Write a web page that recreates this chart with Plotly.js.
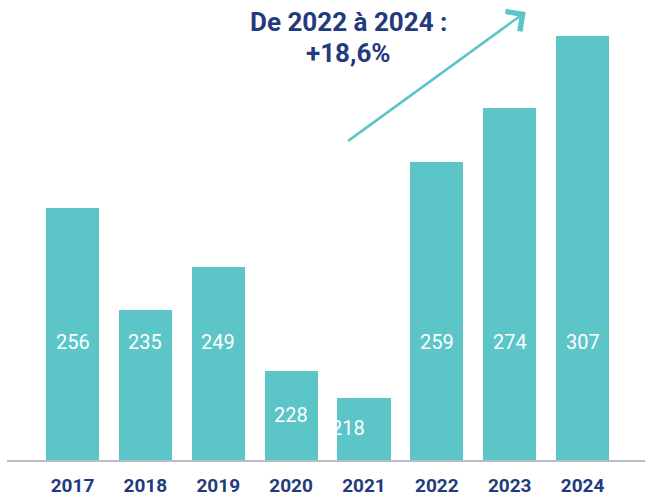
<!DOCTYPE html>
<html>
<head>
<meta charset="utf-8">
<script src="https://cdn.plot.ly/plotly-3.0.1.min.js"></script>
<style>html,body{margin:0;padding:0;background:#fff;}#chart{width:645px;height:497px;}</style>
</head>
<body>
<div id="chart"></div>
<script>
// Data
const years = ['2017', '2018', '2019', '2020', '2021', '2022', '2023', '2024'];
const valueLabels = ['256', '235', '249', '228', '218', '259', '274', '307'];
// bar heights as drawn in the picture (arbitrary scale)
const barHeights = [252, 150, 193, 89, 62, 298, 352, 424];
const titleLines = ['De 2022 à 2024 :', '+18,6%'];

const teal = '#5bc5c8';
const navy = '#233a7c';

const idx = years.map((_, i) => i);

const trace = {
  type: 'bar',
  x: idx,
  y: barHeights,
  width: 0.73,
  marker: {color: teal, line: {width: 0}},
  hoverinfo: 'skip'
};

const labelLevel = 118;
const annotations = valueLabels.map((t, i) => ({
  x: i, y: barHeights[i] > labelLevel + 15 ? labelLevel : barHeights[i] / 2 + 1,
  xref: 'x', yref: 'y', text: t, showarrow: false,
  xanchor: 'center', yanchor: 'middle',
  xshift: barHeights[i] < 70 ? -16 : 0,
  font: {family: 'Roboto, sans-serif', size: 20, color: '#ffffff', weight: 400}
}));

annotations.push({
  xref: 'paper', yref: 'paper', x: 0.536, y: 0.952, text: titleLines[0],
  xanchor: 'center', yanchor: 'middle',
  showarrow: false, font: {family: 'Roboto, sans-serif', size: 26, color: navy, weight: 'bold'}
});
annotations.push({
  xref: 'paper', yref: 'paper', x: 0.536, y: 0.885, text: titleLines[1],
  xanchor: 'center', yanchor: 'middle',
  showarrow: false, font: {family: 'Roboto, sans-serif', size: 26, color: navy, weight: 'bold'}
});
// decorative growth arrow
annotations.push({
  xref: 'paper', yref: 'paper', x: 0.813, y: 0.974, text: '',
  showarrow: true, ax: -179, ay: 130, arrowhead: 4, arrowsize: 1.9,
  arrowwidth: 2.5, arrowcolor: teal, standoff: 0
});

const layout = {
  width: 645, height: 497,
  margin: {l: 7, r: 0, t: 0, b: 37, pad: 0},
  paper_bgcolor: '#ffffff', plot_bgcolor: '#ffffff',
  showlegend: false,
  bargap: 0,
  xaxis: {
    range: [-0.899, 7.857],
    tickmode: 'array', tickvals: idx, ticktext: years,
    showgrid: false, zeroline: false,
    showline: true, linecolor: '#b9bccb', linewidth: 2,
    ticks: '', ticklabelstandoff: 7,
    tickfont: {family: 'Roboto, sans-serif', size: 19, color: navy, weight: 'bold'},
    fixedrange: true
  },
  yaxis: {
    range: [0, 460], visible: false, showgrid: false, zeroline: false, fixedrange: true
  },
  annotations: annotations
};

Plotly.newPlot('chart', [trace], layout, {displayModeBar: false, staticPlot: true});
</script>
</body>
</html>
